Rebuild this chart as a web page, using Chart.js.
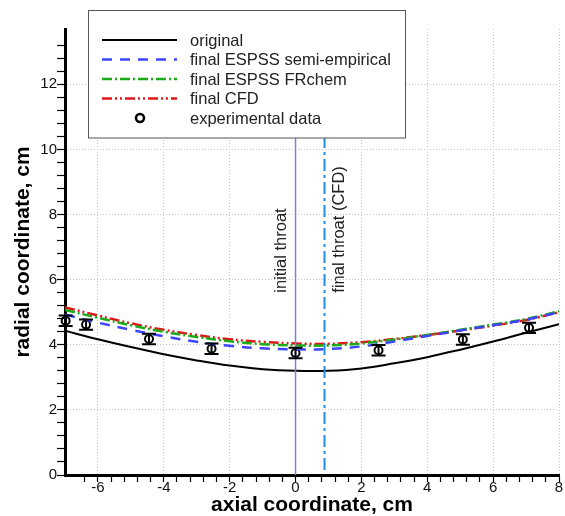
<!DOCTYPE html>
<html>
<head>
<meta charset="utf-8">
<script src="https://cdn.jsdelivr.net/npm/chart.js@4.4.1/dist/chart.umd.min.js"></script>
<style>
  html, body { margin: 0; padding: 0; background: #fff; }
  #wrap { width: 565px; height: 516px; }
</style>
</head>
<body>
<div id="wrap"><canvas id="nozzle-chart"></canvas></div>
<script>
// nozzle contour, radius vs axial position (cm)
const axialX = [-7, -6, -5, -4, -3, -2, -1, 0, 1, 2, 3, 4, 5, 6, 7, 8];
const originalR = [4.43, 4.17, 3.93, 3.71, 3.52, 3.36, 3.25, 3.2, 3.2, 3.27, 3.43, 3.62, 3.85, 4.1, 4.37, 4.63];
const semiEmpiricalR = [4.93, 4.68, 4.46, 4.26, 4.09, 3.97, 3.89, 3.86, 3.87, 3.95, 4.1, 4.27, 4.44, 4.6, 4.77, 5.0];
const frchemR = [5.07, 4.83, 4.6, 4.4, 4.24, 4.11, 4.02, 3.98, 3.98, 4.04, 4.16, 4.3, 4.46, 4.62, 4.79, 5.03];
const cfdR = [5.15, 4.9, 4.66, 4.46, 4.3, 4.17, 4.09, 4.04, 4.03, 4.08, 4.18, 4.3, 4.44, 4.59, 4.76, 5.0];

const expX = [-6.98, -6.36, -4.45, -2.55, 0.0, 2.52, 5.08, 7.09];
const expR = [4.74, 4.62, 4.18, 3.88, 3.75, 3.83, 4.16, 4.52];
const expErr = [0.16, 0.16, 0.16, 0.16, 0.16, 0.16, 0.16, 0.16];

const initialThroatX = 0;
const finalThroatX = 0.88;

const seriesLabels = ['original', 'final ESPSS semi-empirical', 'final ESPSS FRchem', 'final CFD', 'experimental data'];
const xTickLabels = [-6, -4, -2, 0, 2, 4, 6, 8];
const yTickLabels = [0, 2, 4, 6, 8, 10, 12];

const FONT = "'Liberation Sans', Arial, sans-serif";

function pts(xs, ys) {
    return xs.map((x, i) => ({ x: x, y: ys[i] }));
}

function isMultiple(v, step) {
    const q = v / step;
    return Math.abs(q - Math.round(q)) < 1e-6;
}

// error bars on the experimental points
const errorBarPlugin = {
    id: 'errorBars',
    afterDatasetsDraw(chart) {
        const ctx = chart.ctx;
        const xs = chart.scales.x, ys = chart.scales.y;
        ctx.save();
        ctx.strokeStyle = '#000';
        ctx.lineWidth = 2;
        expX.forEach((x, i) => {
            const px = xs.getPixelForValue(x);
            const top = ys.getPixelForValue(expR[i] + expErr[i]);
            const bot = ys.getPixelForValue(expR[i] - expErr[i]);
            ctx.beginPath();
            ctx.moveTo(px, top); ctx.lineTo(px, bot);
            ctx.moveTo(px - 7, top); ctx.lineTo(px + 7, top);
            ctx.moveTo(px - 7, bot); ctx.lineTo(px + 7, bot);
            ctx.stroke();
        });
        ctx.restore();
    }
};

// rotated throat labels + boxed legend
const annotatePlugin = {
    id: 'annotate',
    afterDraw(chart) {
        const ctx = chart.ctx;
        const xs = chart.scales.x, ys = chart.scales.y;
        ctx.save();
        ctx.font = '16.5px ' + FONT;
        ctx.fillStyle = '#222';
        ctx.textAlign = 'left';
        ctx.textBaseline = 'middle';
        const yBase = ys.getPixelForValue(5.6);
        [[initialThroatX, -14, 'initial throat'], [finalThroatX, 15, 'final throat (CFD)']].forEach(([v, dx, txt]) => {
            ctx.save();
            ctx.translate(xs.getPixelForValue(v) + dx, yBase);
            ctx.rotate(-Math.PI / 2);
            ctx.fillText(txt, 0, 0);
            ctx.restore();
        });

        // legend box
        const bx = 88.5, by = 10.5, bw = 317, bh = 127.5;
        ctx.fillStyle = '#fff';
        ctx.fillRect(bx, by, bw, bh);
        ctx.strokeStyle = '#555';
        ctx.lineWidth = 1;
        ctx.strokeRect(bx, by, bw, bh);

        const items = chart.data.datasets.filter(d => d.inLegend);
        items.forEach((d, i) => {
            const y = 40 + i * 19.5;
            if (d.showLine) {
                ctx.save();
                ctx.strokeStyle = d.borderColor;
                ctx.lineWidth = d.borderWidth;
                ctx.setLineDash(d.borderDash || []);
                ctx.beginPath();
                ctx.moveTo(102, y); ctx.lineTo(177, y);
                ctx.stroke();
                ctx.restore();
            } else {
                ctx.beginPath();
                ctx.strokeStyle = '#000';
                ctx.lineWidth = 2.5;
                ctx.arc(140, y, 4, 0, Math.PI * 2);
                ctx.stroke();
            }
            ctx.fillStyle = '#222';
            ctx.textAlign = 'left';
            ctx.textBaseline = 'middle';
            ctx.fillText(d.label, 190, y + 1);
        });
        ctx.restore();
    }
};

const ctxNozzle = document.getElementById('nozzle-chart').getContext('2d');

new Chart(ctxNozzle, {
    type: 'scatter',
    data: {
        datasets: [
            {
                label: 'initial throat line',
                data: [{ x: initialThroatX, y: 0 }, { x: initialThroatX, y: 13.7 }],
                showLine: true, pointRadius: 0,
                borderColor: '#7f7fdc', borderWidth: 1.5
            },
            {
                label: 'final throat line',
                data: [{ x: finalThroatX, y: 0.15 }, { x: finalThroatX, y: 13.7 }],
                showLine: true, pointRadius: 0,
                borderColor: '#1f8fe6', borderWidth: 2,
                borderDash: [12, 4, 3, 4]
            },
            {
                label: seriesLabels[0], inLegend: true,
                data: pts(axialX, originalR),
                showLine: true, pointRadius: 0, tension: 0.4,
                borderColor: '#000', borderWidth: 2
            },
            {
                label: seriesLabels[1], inLegend: true,
                data: pts(axialX, semiEmpiricalR),
                showLine: true, pointRadius: 0, tension: 0.4,
                borderColor: '#3d45ff', borderWidth: 2.5,
                borderDash: [10, 8]
            },
            {
                label: seriesLabels[2], inLegend: true,
                data: pts(axialX, frchemR),
                showLine: true, pointRadius: 0, tension: 0.4,
                borderColor: '#1aaa1a', borderWidth: 2.5,
                borderDash: [10, 3, 2, 3]
            },
            {
                label: seriesLabels[3], inLegend: true,
                data: pts(axialX, cfdR),
                showLine: true, pointRadius: 0, tension: 0.4,
                borderColor: '#e01818', borderWidth: 2.5,
                borderDash: [10, 3, 2, 3, 2, 3]
            },
            {
                label: seriesLabels[4], inLegend: true,
                data: pts(expX, expR),
                showLine: false, clip: false,
                pointStyle: 'circle', pointRadius: 4,
                pointBorderWidth: 2, pointBorderColor: '#000',
                pointBackgroundColor: 'rgba(0,0,0,0)'
            }
        ]
    },
    options: {
        responsive: true,
        maintainAspectRatio: false,
        animation: false,
        devicePixelRatio: 1,
        layout: { padding: { top: 29, right: 2, left: 0, bottom: 0 } },
        plugins: { legend: { display: false }, tooltip: { enabled: false } },
        scales: {
            x: {
                type: 'linear', min: -7, max: 8,
                afterFit: s => { s.height = 41; },
                ticks: {
                    stepSize: 0.4, autoSkip: false, maxRotation: 0, padding: -3,
                    color: '#111', font: { family: FONT, size: 15 },
                    callback: v => xTickLabels.some(t => Math.abs(t - v) < 1e-6) ? String(Math.round(v)) : ''
                },
                grid: {
                    color: c => (c.tick && xTickLabels.some(t => Math.abs(t - c.tick.value) < 1e-6)) ? '#c4c4c4' : 'rgba(0,0,0,0)',
                    tickColor: c => (c.tick && isMultiple(c.tick.value, 0.4)) ? '#000' : 'rgba(0,0,0,0)',
                    tickLength: 7, tickWidth: 1.2, tickBorderDash: []
                },
                border: { color: '#000', width: 3, dash: [1, 2] },
                title: {
                    display: true, text: 'axial coordinate, cm', color: '#000',
                    font: { family: FONT, size: 21, weight: 'bold' },
                    padding: { top: 0, bottom: -2 }
                }
            },
            y: {
                type: 'linear', min: 0, max: 13.7,
                afterFit: s => { s.width = 65; },
                ticks: {
                    stepSize: 0.4, autoSkip: false, padding: 0,
                    color: '#111', font: { family: FONT, size: 15 },
                    callback: v => yTickLabels.some(t => Math.abs(t - v) < 1e-6) ? String(Math.round(v)) : ''
                },
                grid: {
                    color: c => (c.tick && yTickLabels.some(t => t > 0 && Math.abs(t - c.tick.value) < 1e-6)) ? '#c4c4c4' : 'rgba(0,0,0,0)',
                    tickColor: c => (c.tick && isMultiple(c.tick.value, 0.4)) ? '#000' : 'rgba(0,0,0,0)',
                    tickLength: 8, tickWidth: 1.2, tickBorderDash: []
                },
                border: { color: '#000', width: 3, dash: [1, 2] },
                title: {
                    display: true, text: 'radial coordinate, cm', color: '#000',
                    font: { family: FONT, size: 21, weight: 'bold' },
                    padding: { top: 11, bottom: 0 }
                }
            }
        }
    },
    plugins: [errorBarPlugin, annotatePlugin]
});
</script>
</body>
</html>
